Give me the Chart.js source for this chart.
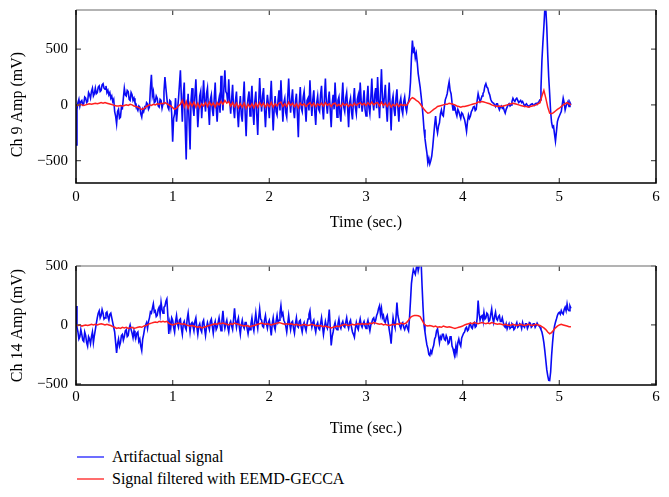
<!DOCTYPE html>
<html><head><meta charset="utf-8">
<script src="https://cdn.jsdelivr.net/npm/chart.js@4.4.0/dist/chart.umd.min.js"></script>
<style>
html,body{margin:0;padding:0;background:#fff;width:669px;height:497px;overflow:hidden;font-family:"Liberation Serif",serif;}
#c1{position:absolute;left:0;top:0;}
#c2{position:absolute;left:0;top:255px;}
#legend{position:absolute;left:77px;top:446px;font-size:16px;color:#000;font-family:"Liberation Serif",serif;}
.item{display:flex;align-items:center;height:22px;}
.swatch{display:block;width:27px;height:2px;margin-right:8px;}
</style></head>
<body>
<canvas id="c1" width="669" height="236"></canvas>
<canvas id="c2" width="669" height="187"></canvas>
<div id="legend"></div>
<script>
// ---- data ----
const dtArtifact = 0.01;   // step of the artifactual (blue) series, seconds
const dtFiltered = 0.02;   // step of the filtered (red) series, seconds
const xTicks = [0,1,2,3,4,5,6];
const yTicks = [-500,0,500];
const seriesNames = ["Artifactual signal","Signal filtered with EEMD-GECCA"];

const ch9Artifact = [
 -360, -40, 20, 50, -10, 30, 40, 0, 10, 70, 60, 20, 30, 110, 90, 60, 120, 150, 80, 100,
 150, 100, 110, 160, 170, 120, 130, 180, 190, 150, 140, 170, 110, 130, 90, 110, 60, 80, 30, 50,
 -60, -100, -170, -60, -40, -120, -110, -20, -30, 60, 150, 90, 80, 130, 120, 50, 40, 110, 90, 40,
 60, 20, 10, -30, -50, -10, -20, -80, -110, -40, -60, -20, -30, 20, 10, -40, -20, 150, 270, 80,
 120, 20, 30, 80, 60, -10, -20, 50, 40, -30, 10, 120, 250, 150, 60, -20, -40, 40, 30, -80,
 -330, -120, -80, 60, -150, -40, 50, 180, 310, 60, -150, 90, 200, -200, -490, -50, 100, -150, -400, 40,
 150, -20, -100, 80, 230, 20, -200, -50, 80, 120, -120, 40, 220, 30, -60, 100, 150, -30, -180, 50,
 90, -40, -100, 60, 200, -20, -150, 10, 60, -70, 260, 80, -50, 150, 310, 120, 100, 20, 230, 40,
 -80, 50, 180, -30, -120, 40, 120, -60, -200, -30, 80, -90, -150, 60, 210, -80, -280, -20, 60, 120,
 -100, 40, 170, -50, -180, 30, 120, -90, -270, 20, 240, 50, -60, 80, 150, -40, -200, -20, 90, 10,
 -120, 60, 215, -20, -230, -40, 80, -60, -90, 40, 130, -50, 220, 30, -150, 20, 60, -70, -110, 70,
 235, 40, -70, 50, 140, -40, -120, 30, 100, -80, -290, 20, 160, -30, -60, 70, 120, -20, -150, 40,
 60, -50, 220, 30, -100, 50, 130, -60, -180, 20, 80, -40, -60, 90, 170, -30, -130, 60, 235, 20,
 -80, 40, 120, -50, -200, 10, 90, -40, 200, 30, -110, 40, 70, -80, -150, 50, 200, -20, -60, 60,
 110, -30, -200, 20, 60, -60, -130, 40, 150, -20, -80, 50, 90, -30, 200, 40, -60, 20, 130, -40,
 -100, 50, 170, -20, -80, 60, 235, 30, -50, 90, 150, -30, 250, 40, -120, 100, 320, 60, -30, 80,
 180, -20, -150, 40, 200, -10, -230, 30, 80, -40, -100, 60, 140, -30, -150, 20, 60, -40, -80, 30,
 70, -20, -60, 10, 30, 80, 200, 420, 577, 480, 500, 420, 460, 380, 280, 220, 160, 80, 0, -100,
 -220, -300, -370, -430, -520, -480, -530, -500, -460, -380, -280, -180, -100, -200, -250, -190, -160, -80, -45, -90,
 -100, -20, 45, 70, 100, 160, 207, 130, 100, 20, -45, -10, -20, -70, -100, -40, -60, -90, -120, -70,
 -80, -110, -133, -180, -237, -150, -90, -120, -100, -60, -45, -20, -15, -50, -40, 40, 100, 60, 30, 50,
 80, 100, 120, 170, 190, 160, 150, 110, 90, 50, 30, 20, 15, 0, -15, 10, 10, -20, -45, -20,
 -10, -30, -20, -50, -74, -40, -20, 0, 10, -10, 0, 30, 59, 40, 30, 50, 60, 40, 20, 30,
 40, 20, 30, 10, -10, 0, 10, -5, -10, -15, 0, 5, 10, 0, -5, 10, 15, 5, 20, 30,
 45, 150, 400, 560, 700, 860, 860, 700, 450, 250, 100, -60, -160, -200, -190, -260, -325, -240, -150, -120,
 -100, -80, -60, 0, 60, 20, -45, -10, 10, 30, -15, 20, 0
];
const ch9Filtered = [
 0, -5, 5, 0, -5, 0, 5, 10, 5, 10,
 15, 10, 15, 20, 15, 20, 15, 10, 5, 0,
 -5, -10, -10, -5, -10, -5, 0, -5, 5, 0,
 -10, -15, -20, -30, -40, -35, -20, -10, 0, -5,
 5, 0, 10, 5, 15, 10, 20, 10, 0, -10,
 -25, -40, -30, -10, 5, 40, -20, 30, -30, 20,
 -10, 25, -20, 15, -25, 10, -10, 20, -15, 25,
 -5, 15, -20, 20, 0, 30, 5, 40, 15, 30,
 -10, 20, -15, 15, -25, 10, -20, 15, -30, 5,
 -20, 10, -25, 15, -20, 20, -10, 15, -20, 10,
 -15, 20, -20, 10, -10, 15, 25, -15, 10, -15,
 25, -5, 15, -15, 10, -25, 15, -5, 10, -15,
 5, 20, -10, 15, -15, 10, -5, 15, -10, 20,
 -5, 10, -15, 10, 15, -10, 5, -15, 15, -5,
 10, -15, 5, -10, 15, -5, 10, 20, 0, 15,
 -5, 20, 0, 25, 0, 15, 20, -10, 25, -5,
 15, -15, 15, -20, 5, -10, 10, -15, 5, -5,
 0, -5, 20, 50, 65, 55, 40, 30, 10, -15,
 -40, -60, -75, -70, -55, -40, -30, -15, -10, -5,
 0, 5, 5, 15, 10, 5, 0, -10, -15, -20,
 -15, -15, -10, -5, 0, 5, 10, 15, 25, 25,
 30, 25, 20, 15, 10, 0, -5, -10, -15, -10,
 -15, -10, -5, 0, 5, 10, 15, 10, 5, 0,
 -5, -10, -15, -15, -20, -15, -10, -5, 0, 10,
 20, 80, 130, 60, -20, -75, -80, -70, -55, -40,
 -30, -15, 0, 10, 20, 10, 0
];
const ch14Artifact = [
 160, -20, -60, -120, -100, -40, -80, -130, -140, -60, -90, -150, -180, -100, -120, -160, -100, -60, -150, -90,
 -40, 10, 60, 100, 120, 60, 80, 130, 100, 50, 60, 100, 110, 70, 40, 90, 100, 60, 20, -20,
 -60, -150, -237, -160, -120, -180, -150, -90, -80, -130, -100, -50, -40, -100, -90, -30, 0, -40, -70, -110,
 -50, -90, -110, -70, -60, -140, -120, -180, -218, -120, -80, -30, 0, 20, -30, 30, 60, 110, 100, 140,
 178, 110, 120, 70, 80, 130, 150, 90, 192, 130, 100, 150, 160, 200, 220, 80, -76, 20, -30, 60,
 40, -20, -60, 30, 80, 10, -20, 40, 50, -30, -80, 10, 30, -20, -40, 50, 100, 20, -60, 10,
 20, -10, -50, 30, 60, -20, -80, -10, 10, -40, -60, 20, 40, -30, -90, -20, 20, -10, -40, 30,
 50, -10, -70, 0, 30, -40, -20, 20, 60, 0, -50, 40, 120, 20, -30, 10, 40, -20, -60, 10,
 30, -10, -40, 50, 140, 40, -20, 30, 60, -20, -80, 0, 40, -10, -30, 20, 20, -30, -76, -20,
 -40, 10, 60, -10, -50, 30, 100, 20, -30, 60, 136, 50, 40, -10, -20, 40, 80, 10, -30, 20,
 40, -20, -90, 10, 60, -10, -40, 30, 80, 20, 40, 100, 164, 80, 100, 40, 20, -10, -60, 10,
 80, 10, -40, 20, 30, -30, -70, 10, 60, -10, -20, 30, 40, -20, -60, 0, 20, -20, -50, 10,
 50, 90, 121, 30, -20, 20, 40, -20, -60, 0, 20, -30, -40, 10, 60, -10, -80, -20, 30, -10,
 -30, 40, 130, -20, -175, -100, -60, -10, 20, -30, -40, 10, 50, -10, -30, 10, 30, -10, -20, 20,
 60, 0, -30, 20, 40, -20, -60, -80, -105, -30, 20, -20, -40, 10, 50, 0, -20, 10, 30, -10,
 -30, 10, 40, -10, -50, 0, 20, 50, 60, 20, 40, 80, 100, 140, 164, 90, 140, 60, 80, 30,
 20, 60, 80, 20, -40, -90, -160, -30, 60, 10, -20, 60, 190, 80, 40, -10, -30, 10, 20, -20,
 -40, -10, 0, -30, -50, 60, 200, 350, 418, 470, 450, 430, 480, 520, 460, 500, 520, 540, 333, 150,
 0, -60, -118, -170, -200, -250, -260, -220, -240, -200, -175, -120, -100, -50, -34, -90, -150, -100, -118, -80,
 -80, -120, -130, -90, -110, -160, -150, -100, -100, -180, -203, -240, -260, -180, -232, -150, -120, -160, -180, -110,
 -90, -70, -60, -30, -20, -50, -40, 0, 10, -20, -30, 10, 20, -20, -10, 60, 206, 100, 40, 70,
 79, 40, 107, 50, 60, 100, 90, 30, 40, 90, 136, 60, 20, 70, 107, 50, 40, 70, 80, 30,
 30, 60, 20, -10, -20, 10, -34, -10, 10, -30, -20, 10, 0, -40, -30, 0, 20, -20, -10, 10,
 0, -30, 20, -10, -20, 10, 10, -30, -10, 20, 15, -20, -10, 10, 10, -20, -5, 15, 0, -10,
 -20, -40, -60, -100, -150, -220, -300, -380, -430, -470, -472, -400, -260, -150, -62, -10, 23, 50, 80, 100,
 107, 90, 121, 100, 90, 130, 150, 120, 178, 130, 120, 160, 140
];
const ch14Filtered = [
 0, -5, 0, -10, -5, 0, -5, 0, 5, 0,
 5, 0, 5, 10, 5, 0, 5, 0, -5, -15,
 -20, -30, -25, -30, -20, -25, -20, -30, -25, -20,
 -30, -25, -20, -15, -20, -10, -5, 0, 10, 15,
 20, 25, 20, 30, 25, 30, 25, 30, 15, 5,
 0, 5, 10, 15, 10, 5, 10, 0, -5, -10,
 -5, -10, -15, -20, -15, -25, -20, -15, -10, -5,
 0, 5, 10, 5, 15, 10, 15, 10, 5, 0,
 10, 5, 15, 10, 5, 0, -5, -10, -5, -10,
 -15, -10, -5, 0, 5, 10, 15, 10, 5, 10,
 5, 0, 5, 10, 15, 20, 15, 10, 5, 10,
 5, 10, 5, 0, 5, 0, -5, 0, 5, 0,
 -5, 0, 5, 0, -5, -10, -5, -10, -15, -10,
 -15, -20, -25, -20, -15, -10, -15, -5, 0, 5,
 0, -5, 0, 5, 0, 5, 10, 5, 10, 5,
 10, 5, 15, 10, 20, 15, 10, 5, 10, 0,
 5, 0, -5, 0, 5, 0, 10, 5, 15, 10,
 10, 20, 40, 65, 75, 80, 80, 78, 70, 40,
 10, -5, -10, -5, -10, -15, -10, -20, -15, -20,
 -10, -15, -20, -15, -20, -25, -30, -25, -20, -15,
 -10, 0, 5, 10, 15, 10, 20, 15, 10, 15,
 20, 15, 10, 15, 10, 20, 15, 10, 5, 10,
 5, 0, 5, 0, -5, 0, 5, 0, -5, 0,
 5, 0, -5, 0, 5, 0, -5, 0, 5, 0,
 -5, -15, -25, -40, -60, -75, -65, -45, -25, -10,
 0, 5, 0, -5, -10, -15, -15
];

// ---- styling ----
const BLUE = '#0a0af5';
const RED = '#ff1f1f';
const FONT = '"Liberation Serif", "Times New Roman", serif';
Chart.defaults.font.family = FONT;
Chart.defaults.color = '#000';

function toPoints(arr, step){ return arr.map((v,i)=>({x: Math.round(i*step*1000)/1000, y: v})); }
function fmt(v){ return v < 0 ? '\u2212' + Math.abs(v) : String(v); }

const framePlugin = {
  id: 'frame',
  afterDatasetsDraw(chart){
    const {ctx, chartArea:{left,right,top,bottom}, scales:{x,y}} = chart;
    const tl = 5;
    ctx.save();
    ctx.lineWidth = 1.3;
    ctx.strokeStyle = '#555';
    x.ticks.forEach(t=>{
      const px = x.getPixelForValue(t.value);
      ctx.beginPath();
      ctx.moveTo(px,bottom); ctx.lineTo(px,bottom-tl);
      ctx.moveTo(px,top); ctx.lineTo(px,top+tl);
      ctx.stroke();
    });
    y.ticks.forEach(t=>{
      const py = y.getPixelForValue(t.value);
      ctx.beginPath();
      ctx.moveTo(left,py); ctx.lineTo(left+tl,py);
      ctx.moveTo(right,py); ctx.lineTo(right-tl,py);
      ctx.stroke();
    });
    ctx.lineWidth = 1.5;
    ctx.strokeStyle = '#9a9a9a';
    ctx.beginPath(); ctx.moveTo(left,top); ctx.lineTo(right,top); ctx.stroke();
    ctx.strokeStyle = '#000';
    ctx.beginPath();
    ctx.moveTo(right,top); ctx.lineTo(right,bottom); ctx.lineTo(left,bottom); ctx.lineTo(left,top);
    ctx.stroke();
    ctx.restore();
  }
};

function makeChart(id, blue, red, yMin, yMax, yTitle, padTop, xAxisH, tickPad){
  return new Chart(document.getElementById(id), {
    type: 'line',
    data: {
      datasets: [
        {label: seriesNames[0], data: toPoints(blue, dtArtifact), borderColor: BLUE, borderWidth: 1.6, pointRadius: 0, tension: 0, order: 2},
        {label: seriesNames[1], data: toPoints(red, dtFiltered), borderColor: RED, borderWidth: 1.5, pointRadius: 0, tension: 0, order: 1}
      ]
    },
    options: {
      responsive: false, animation: false, devicePixelRatio: 1,
      layout: {padding: {top: padTop, left: 0, right: 13, bottom: 0}},
      plugins: {legend: {display: false}, tooltip: {enabled: false}},
      scales: {
        x: {
          type: 'linear', min: 0, max: 6,
          afterBuildTicks: s => { s.ticks = xTicks.map(v=>({value:v})); },
          afterFit: s => { s.height = xAxisH; },
          grid: {display: false, drawTicks: false},
          border: {display: false},
          ticks: {padding: tickPad, font: {size: 15}, maxRotation: 0},
          title: {display: true, text: 'Time (sec.)', font: {size: 16}, padding: {top: 0, bottom: 4}}
        },
        y: {
          min: yMin, max: yMax,
          afterBuildTicks: s => { s.ticks = yTicks.map(v=>({value:v})); },
          afterFit: s => { s.width = 76; s.paddingTop = 0; s.paddingBottom = 0; },
          grid: {display: false, drawTicks: false},
          border: {display: false},
          ticks: {padding: 8, font: {size: 15}, callback: v => fmt(v)},
          title: {display: true, text: yTitle, font: {size: 16}, padding: {top: 8, bottom: 0}}
        }
      }
    },
    plugins: [framePlugin]
  });
}

makeChart('c1', ch9Artifact, ch9Filtered, -700, 850, 'Ch 9 Amp (mV)    ', 10, 53, 5);
makeChart('c2', ch14Artifact, ch14Filtered, -510, 500, 'Ch 14 Amp (mV)', 11, 57, 3);

// legend (HTML, built from series names)
const lg = document.getElementById('legend');
[[seriesNames[0], '#6d6dff'], [seriesNames[1], '#ff6d6d']].forEach(([name,col])=>{
  const it = document.createElement('div'); it.className = 'item';
  const sw = document.createElement('span'); sw.className = 'swatch'; sw.style.backgroundColor = col;
  const tx = document.createElement('span'); tx.textContent = name;
  it.appendChild(sw); it.appendChild(tx); lg.appendChild(it);
});
</script>
</body></html>
